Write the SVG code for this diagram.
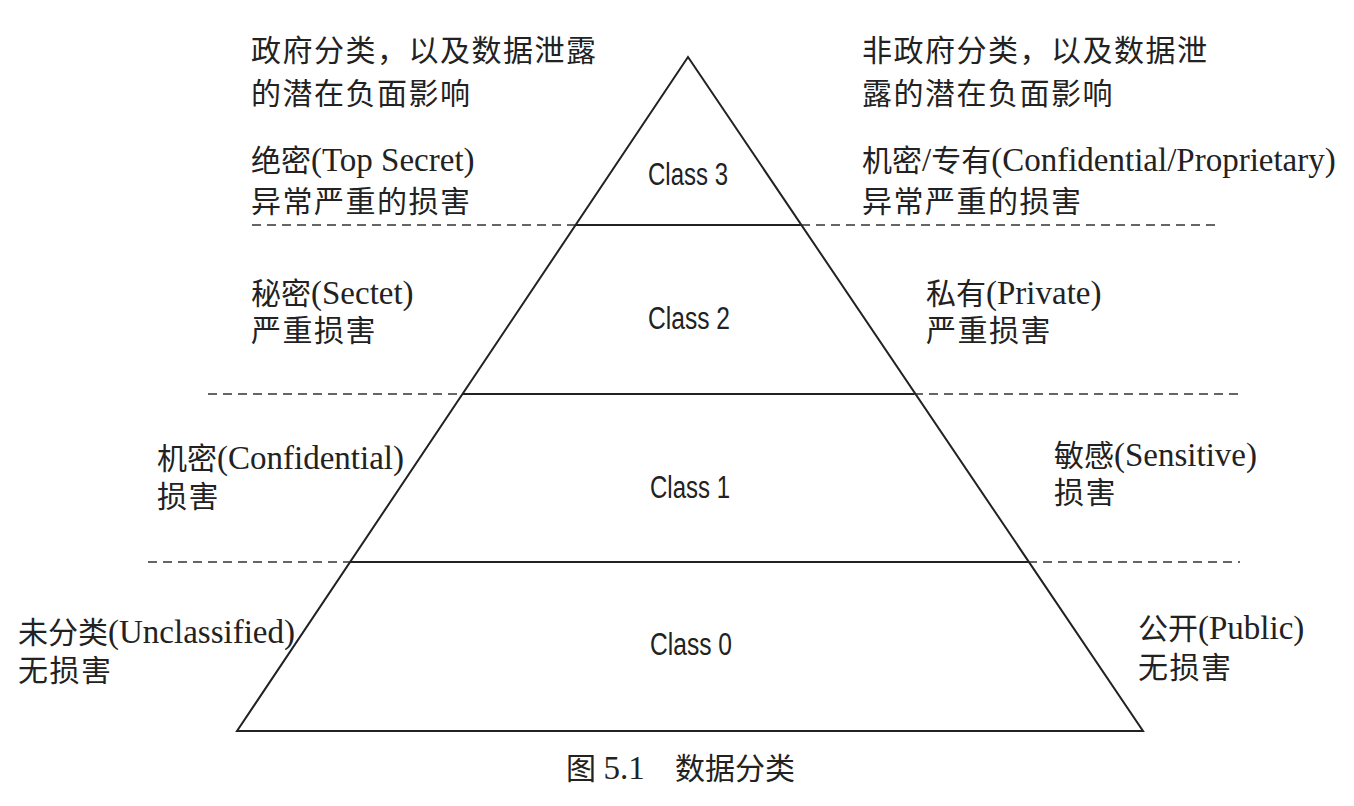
<svg xmlns="http://www.w3.org/2000/svg" width="1354" height="806" viewBox="0 0 1354 806">
<style>
.t{font-family:"Liberation Serif","Noto Sans CJK SC",serif;font-size:30px;fill:#222}
.c{letter-spacing:1.5px}
.l{font-size:33px}
.cl{font-family:"Liberation Sans",Arial,sans-serif;font-size:31px;fill:#222}
.solid{stroke:#222;stroke-width:2;fill:none}
.dash{stroke:#333;stroke-width:1.6;stroke-dasharray:9 6;fill:none}
</style>
<rect width="1354" height="806" fill="#fff"/>
<g id="connectors">
<line class="dash" x1="252" y1="225" x2="575" y2="225"/>
<line class="dash" x1="801" y1="225" x2="1215" y2="225"/>
<line class="dash" x1="208" y1="394" x2="462" y2="394"/>
<line class="dash" x1="914" y1="394" x2="1238" y2="394"/>
<line class="dash" x1="148" y1="562" x2="350" y2="562"/>
<line class="dash" x1="1028" y1="562" x2="1240" y2="562"/>
</g>
<g id="pyramid">
<polygon class="solid" points="688,57 1143,731 237,731"/>
<line class="solid" x1="575" y1="225" x2="801" y2="225"/>
<line class="solid" x1="462" y1="394" x2="914" y2="394"/>
<line class="solid" x1="350" y1="562" x2="1028" y2="562"/>
</g>
<g id="class3"><text class="cl" x="648" y="185" textLength="80" lengthAdjust="spacingAndGlyphs">Class 3</text></g>
<g id="class2"><text class="cl" x="648" y="329" textLength="82" lengthAdjust="spacingAndGlyphs">Class 2</text></g>
<g id="class1"><text class="cl" x="650" y="498" textLength="80" lengthAdjust="spacingAndGlyphs">Class 1</text></g>
<g id="class0"><text class="cl" x="650" y="655" textLength="82" lengthAdjust="spacingAndGlyphs">Class 0</text></g>
<g id="gov-header">
<text class="t c" x="251" y="61">政府分类，以及数据泄露</text>
<text class="t c" x="251" y="104">的潜在负面影响</text>
</g>
<g id="nongov-header">
<text class="t c" x="862" y="61">非政府分类，以及数据泄</text>
<text class="t c" x="862" y="104">露的潜在负面影响</text>
</g>
<g id="gov-3">
<text class="t" x="251" y="171">绝密<tspan class="l">(Top Secret)</tspan></text>
<text class="t c" x="251" y="212">异常严重的损害</text>
</g>
<g id="nongov-3">
<text class="t" x="862" y="171">机密<tspan class="l">/</tspan>专有<tspan class="l">(Confidential/Proprietary)</tspan></text>
<text class="t c" x="862" y="212">异常严重的损害</text>
</g>
<g id="gov-2">
<text class="t" x="251" y="304">秘密<tspan class="l">(Sectet)</tspan></text>
<text class="t c" x="251" y="341">严重损害</text>
</g>
<g id="nongov-2">
<text class="t" x="926" y="304">私有<tspan class="l">(Private)</tspan></text>
<text class="t c" x="926" y="341">严重损害</text>
</g>
<g id="gov-1">
<text class="t" x="157" y="469">机密<tspan class="l">(Confidential)</tspan></text>
<text class="t c" x="157" y="507">损害</text>
</g>
<g id="nongov-1">
<text class="t" x="1054" y="466">敏感<tspan class="l">(Sensitive)</tspan></text>
<text class="t c" x="1054" y="503">损害</text>
</g>
<g id="gov-0">
<text class="t" x="18" y="643">未分类<tspan class="l">(Unclassified)</tspan></text>
<text class="t c" x="18" y="681">无损害</text>
</g>
<g id="nongov-0">
<text class="t" x="1138" y="639">公开<tspan class="l">(Public)</tspan></text>
<text class="t c" x="1138" y="678">无损害</text>
</g>
<g id="caption">
<text class="t" x="566" y="779">图 <tspan class="l">5.1</tspan><tspan x="675">数据分类</tspan></text>
</g>
</svg>
